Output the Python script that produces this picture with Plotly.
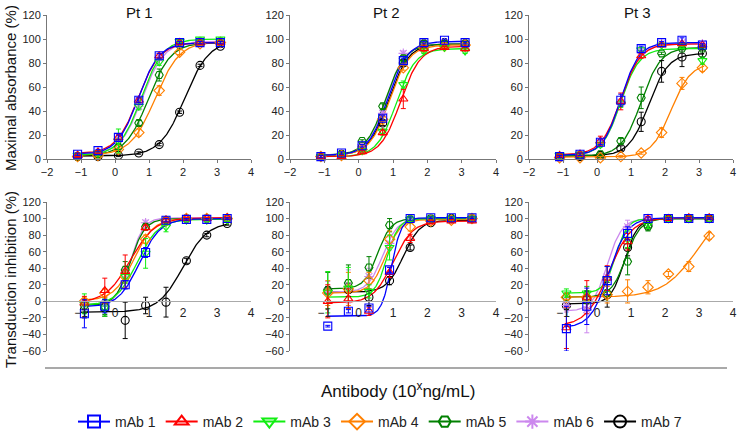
import numpy as np
import plotly.graph_objects as go

# ---------------- data ----------------
NAMES = ["mAb 1", "mAb 2", "mAb 3", "mAb 4", "mAb 5", "mAb 6", "mAb 7"]
COLORS = ["#0000FF", "#FF0000", "#11EE11", "#FF8000", "#008000", "#CC88EE", "#000000"]
SYMBOLS = ["square-open", "triangle-up-open", "triangle-down-open", "diamond-open",
           "hexagon2-open", "asterisk-open", "circle-open"]
PATIENTS = ["Pt 1", "Pt 2", "Pt 3"]

# log10 antibody concentration (ng/mL)
X_ABS = [-1.1, -0.5, 0.1, 0.7, 1.3, 1.9, 2.5, 3.1]
X_INH = [-0.9, -0.3, 0.3, 0.9, 1.5, 2.1, 2.7, 3.3]

# Maximal absorbance (%) - rows: mAb 1..7
PT1_ABS = [[4, 7, 18, 49, 86, 97, 97, 97],
           [3, 6, 18, 49, 86, 97, 97, 97],
           [3, 5, 15, 44, 81, 98, 100, 100],
           [2, 3, 8, 22, 57, 89, 96, 97],
           [2, 4, 10, 30, 70, 95, 97, 97],
           [3, 5, 16, 44, 84, 97, 98, 98],
           [2, 2, 3, 5, 12, 39, 78, 94]]
PT1_ABS_ERR = [[1, 1, 2, 2, 2, 1, 1, 1],
               [1, 1, 2, 2, 2, 1, 1, 1],
               [1, 1, 10, 3, 3, 1, 1, 1],
               [1, 1, 1, 3, 4, 2, 1, 1],
               [1, 1, 2, 2, 5, 1, 1, 1],
               [1, 1, 2, 2, 2, 1, 1, 1],
               [1, 1, 1, 1, 1, 1, 1, 1]]
PT2_ABS = [[2, 5, 11, 34, 82, 97, 99, 97],
           [2, 2, 6, 22, 50, 92, 93, 92],
           [2, 3, 7, 23, 62, 90, 93, 90],
           [2, 3, 8, 33, 76, 93, 94, 95],
           [2, 4, 15, 44, 84, 96, 96, 96],
           [2, 4, 12, 38, 88, 96, 97, 96],
           [2, 4, 10, 30, 80, 96, 97, 96]]
PT2_ABS_ERR = [[1, 1, 1, 2, 2, 1, 1, 1],
               [1, 1, 1, 2, 8, 2, 1, 2],
               [1, 1, 1, 2, 3, 2, 1, 2],
               [1, 1, 1, 2, 2, 1, 1, 1],
               [1, 1, 1, 2, 2, 1, 1, 1],
               [1, 1, 1, 2, 2, 1, 1, 1],
               [1, 1, 1, 2, 2, 1, 1, 1]]
PT3_ABS = [[2, 4, 14, 49, 92, 97, 99, 95],
           [3, 4, 15, 48, 86, 95, 96, 95],
           [3, 4, 12, 46, 91, 95, 95, 82],
           [1, 1, 1, 2, 5, 22, 63, 76],
           [2, 3, 4, 15, 51, 88, 92, 92],
           [2, 4, 14, 47, 90, 96, 97, 96],
           [2, 2, 3, 9, 31, 73, 85, 88]]
PT3_ABS_ERR = [[1, 1, 2, 5, 2, 1, 2, 1],
               [1, 1, 4, 7, 2, 1, 1, 1],
               [1, 1, 2, 3, 2, 1, 1, 3],
               [1, 1, 1, 1, 1, 4, 5, 3],
               [1, 1, 1, 2, 9, 1, 1, 1],
               [1, 1, 2, 3, 2, 1, 1, 1],
               [1, 1, 1, 2, 8, 9, 8, 3]]

# Transduction inhibition (%)
PT1_INH = [[-15, -6, 20, 59, 98, 99, 99, 100],
           [-2, 13, 36, 89, 98, 100, 100, 101],
           [-3, -8, 30, 58, 90, 98, 98, 98],
           [0, 10, 30, 75, 97, 100, 100, 100],
           [-5, -6, 38, 90, 98, 100, 100, 100],
           [-3, -3, 35, 95, 98, 100, 100, 100],
           [-10, -8, -23, -5, -1, 49, 80, 94]]
PT1_INH_ERR = [[17, 8, 5, 6, 2, 1, 1, 1],
               [8, 15, 20, 3, 2, 1, 1, 1],
               [12, 10, 8, 18, 6, 1, 1, 1],
               [3, 5, 8, 5, 2, 1, 1, 1],
               [8, 10, 10, 3, 2, 1, 1, 1],
               [3, 3, 5, 3, 2, 1, 1, 1],
               [10, 10, 22, 10, 18, 3, 2, 2]]
PT2_INH = [[-30, -12, -8, 38, 100, 101, 101, 101],
           [0, 3, -12, 35, 76, 96, 97, 97],
           [11, 16, 12, 65, 99, 100, 100, 100],
           [10, 15, 25, 75, 90, 97, 98, 100],
           [13, 22, 41, 92, 99, 100, 100, 100],
           [12, 18, 30, 70, 97, 100, 100, 100],
           [13, 14, 5, 25, 65, 95, 100, 100]]
PT2_INH_ERR = [[1, 2, 2, 3, 2, 1, 1, 1],
               [20, 12, 5, 6, 5, 2, 2, 2],
               [25, 25, 8, 15, 3, 1, 1, 1],
               [15, 20, 10, 10, 5, 1, 1, 1],
               [22, 22, 13, 8, 2, 1, 1, 1],
               [12, 20, 10, 8, 2, 1, 1, 1],
               [5, 8, 10, 5, 3, 1, 1, 1]]
PT3_INH = [[-33, -6, 25, 82, 100, 100, 100, 100],
           [-32, 5, 28, 72, 100, 100, 101, 101],
           [10, 10, 27, 75, 93, 100, 100, 100],
           [5, 5, 8, 12, 17, 33, 42, 79],
           [5, 5, 10, 48, 90, 100, 100, 100],
           [-5, -10, 30, 90, 100, 100, 100, 100],
           [-5, 2, 8, 65, 92, 100, 100, 100]]
PT3_INH_ERR = [[27, 22, 17, 8, 2, 1, 1, 1],
               [25, 20, 15, 10, 2, 1, 1, 1],
               [5, 8, 15, 10, 5, 1, 1, 1],
               [3, 3, 10, 14, 8, 3, 6, 4],
               [5, 8, 10, 16, 5, 1, 1, 1],
               [8, 28, 12, 8, 2, 1, 1, 1],
               [5, 10, 15, 10, 3, 1, 1, 1]]

# 4-parameter logistic fits: [bottom, top, logEC50, hill]
PT1_ABS_FIT = [[4, 97, 0.68, 1.4], [4.5, 97, 0.68, 1.35], [3, 100, 0.78, 1.35],
               [3, 98, 1.18, 1.2], [3, 97, 0.98, 1.3], [3.5, 98, 0.8, 1.35],
               [2.5, 99, 2.05, 1.2]]
PT2_ABS_FIT = [[3, 98, 0.85, 1.5], [2, 94, 1.22, 1.5], [2, 92, 1.1, 1.55],
               [3, 95, 0.9, 1.5], [3, 96, 0.78, 1.5], [3, 96, 0.8, 1.6],
               [3, 96, 0.88, 1.5]]
PT3_ABS_FIT = [[3, 97, 0.7, 1.6], [3.5, 96, 0.7, 1.5], [3, 92, 0.7, 1.6],
               [1.5, 80, 2.18, 1.5], [2.5, 93, 1.3, 1.5], [3, 96, 0.72, 1.6],
               [2.5, 88, 1.52, 1.5]]
PT1_INH_FIT = [[-7, 100, 0.72, 1.4], [-2, 101, 0.45, 1.2], [-5, 99, 0.65, 1.4],
               [1, 100, 0.55, 1.5], [-5, 100, 0.45, 2.0], [-4, 101, 0.45, 2.2],
               [-13, 96, 2.0, 1.2]]
PT2_INH_FIT = [[-18, 101, 0.95, 3.0], [-2, 97, 1.0, 1.5], [5, 100, 0.82, 2.5],
               [10, 99, 0.78, 2.0], [15, 100, 0.55, 2.2], [11, 100, 0.7, 2.0],
               [11, 98, 1.3, 1.8]]
PT3_INH_FIT = [[-32, 101, 0.35, 1.6], [-30, 101, 0.35, 1.3], [10, 100, 0.55, 2.5],
               [5, 125, 3.0, 0.85], [5, 100, 0.85, 2.0], [-12, 100, 0.3, 2.0],
               [-3, 100, 0.8, 2.2]]

# ---------------- figure ----------------
W, H = 739, 433
FONT = "Liberation Sans, Arial, sans-serif"


def px_x(p):
    return p / W


def px_y(p):
    return 1 - p / H


X_DOMAINS = [[px_x(47), px_x(251)], [px_x(290), px_x(496)], [px_x(529), px_x(733)]]
TOP_DOM = [px_y(159), px_y(15)]
BOT_DOM = [px_y(351), px_y(202)]

panels = [
    (1, X_ABS, PT1_ABS, PT1_ABS_ERR, PT1_ABS_FIT, True),
    (2, X_ABS, PT2_ABS, PT2_ABS_ERR, PT2_ABS_FIT, True),
    (3, X_ABS, PT3_ABS, PT3_ABS_ERR, PT3_ABS_FIT, True),
    (4, X_INH, PT1_INH, PT1_INH_ERR, PT1_INH_FIT, False),
    (5, X_INH, PT2_INH, PT2_INH_ERR, PT2_INH_FIT, False),
    (6, X_INH, PT3_INH, PT3_INH_ERR, PT3_INH_FIT, False),
]

fig = go.Figure()


def fpl(x, p):
    b, t, ec, h = p
    return b + (t - b) / (1 + 10 ** ((ec - x) * h))


for idx, xs, ys, errs, fits, top in panels:
    xa = "x" if idx == 1 else f"x{idx}"
    ya = "y" if idx == 1 else f"y{idx}"
    xc = np.linspace(xs[0] - 0.05, xs[-1] + 0.05, 200)
    for k in reversed(range(7)):
        fig.add_trace(go.Scatter(
            x=xc, y=fpl(xc, fits[k]), mode="lines", xaxis=xa, yaxis=ya,
            line=dict(color=COLORS[k], width=1.3), showlegend=False, hoverinfo="skip"))
    for k in reversed(range(7)):
        fig.add_trace(go.Scatter(
            x=xs, y=ys[k], mode="markers", xaxis=xa, yaxis=ya,
            marker=dict(symbol=SYMBOLS[k], size=8, color=COLORS[k],
                        line=dict(width=1.1, color=COLORS[k])),
            error_y=dict(type="data", array=errs[k], visible=True,
                         thickness=1, width=2.5, color=COLORS[k]),
            showlegend=False, cliponaxis=False))

# legend-only traces
for k in range(7):
    fig.add_trace(go.Scatter(
        x=[None], y=[None], mode="lines+markers", name=NAMES[k],
        line=dict(color=COLORS[k], width=2),
        marker=dict(symbol=SYMBOLS[k], size=12, color=COLORS[k],
                    line=dict(width=2, color=COLORS[k]))))

tickfont = dict(family=FONT, size=11, color="#222222")
layout = dict(
    width=W, height=H, margin=dict(l=0, r=0, t=0, b=0, autoexpand=False),
    paper_bgcolor="white", plot_bgcolor="white",
    font=dict(family=FONT, color="#222222"),
    showlegend=True,
    legend=dict(orientation="h", x=px_x(73), xanchor="left", y=px_y(422), yanchor="middle",
                font=dict(family=FONT, size=14, color="#222222"),
                bgcolor="rgba(0,0,0,0)", itemwidth=32, tracegroupgap=0),
)

for idx, xs, ys, errs, fits, top in panels:
    col = (idx - 1) % 3
    xk = "xaxis" if idx == 1 else f"xaxis{idx}"
    yk = "yaxis" if idx == 1 else f"yaxis{idx}"
    ya = "y" if idx == 1 else f"y{idx}"
    xa = "x" if idx == 1 else f"x{idx}"
    if top:
        layout[xk] = dict(domain=X_DOMAINS[col], range=[-2, 4], anchor=ya,
                          tickvals=[-2, -1, 0, 1, 2, 3, 4], showline=True,
                          linecolor="#777777", linewidth=1, ticks="outside",
                          ticklen=3, tickcolor="#777777", tickfont=tickfont,
                          showgrid=False, zeroline=False, automargin=False)
        layout[yk] = dict(domain=TOP_DOM, range=[0, 120], anchor=xa,
                          tickvals=list(range(0, 121, 20)), showline=True,
                          linecolor="#777777", linewidth=1, ticks="outside",
                          ticklen=3, tickcolor="#777777", tickfont=tickfont,
                          showgrid=False, zeroline=False, automargin=False)
    else:
        zero_pos = BOT_DOM[0] + (BOT_DOM[1] - BOT_DOM[0]) * (60 / 180)
        layout[xk] = dict(domain=X_DOMAINS[col], range=[-2, 4], anchor="free",
                          position=zero_pos, tickvals=[-1, 0, 1, 2, 3, 4],
                          showline=True, linecolor="#AAAAAA", linewidth=1,
                          ticks="", tickfont=dict(family=FONT, size=12, color="#222222"),
                          showgrid=False, zeroline=False, automargin=False)
        layout[yk] = dict(domain=BOT_DOM, range=[-60, 120], anchor=xa,
                          tickvals=list(range(-60, 121, 20)), showline=True,
                          linecolor="#777777", linewidth=1, ticks="outside",
                          ticklen=3, tickcolor="#777777", tickfont=tickfont,
                          showgrid=False, zeroline=False, automargin=False)

annotations = []
for i, (name, cx) in enumerate(zip(PATIENTS, [139, 386, 637])):
    annotations.append(dict(text=name, x=px_x(cx), y=px_y(12), xref="paper", yref="paper",
                            showarrow=False, xanchor="center", yanchor="middle",
                            font=dict(family=FONT, size=15, color="#111111")))
annotations.append(dict(text="Maximal absorbance (%)", x=px_x(10), y=px_y(88),
                        xref="paper", yref="paper", showarrow=False, textangle=-90,
                        xanchor="center", yanchor="middle",
                        font=dict(family=FONT, size=15, color="#111111")))
annotations.append(dict(text="Transduction inhibition (%)", x=px_x(10), y=px_y(280),
                        xref="paper", yref="paper", showarrow=False, textangle=-90,
                        xanchor="center", yanchor="middle",
                        font=dict(family=FONT, size=15, color="#111111")))
annotations.append(dict(text="Antibody (10<sup>x</sup>ng/mL)", x=px_x(398), y=px_y(390),
                        xref="paper", yref="paper", showarrow=False,
                        xanchor="center", yanchor="middle",
                        font=dict(family=FONT, size=17, color="#111111")))
layout["annotations"] = annotations
layout["shapes"] = [dict(type="line", xref="paper", yref="paper",
                         x0=px_x(45), x1=px_x(727), y0=px_y(368), y1=px_y(368),
                         line=dict(color="#555555", width=1.2))]

fig.update_layout(**layout)
fig.write_html("out.html", config={"displayModeBar": False},
               post_script="document.body.style.margin='0';document.body.style.overflow='hidden';")
